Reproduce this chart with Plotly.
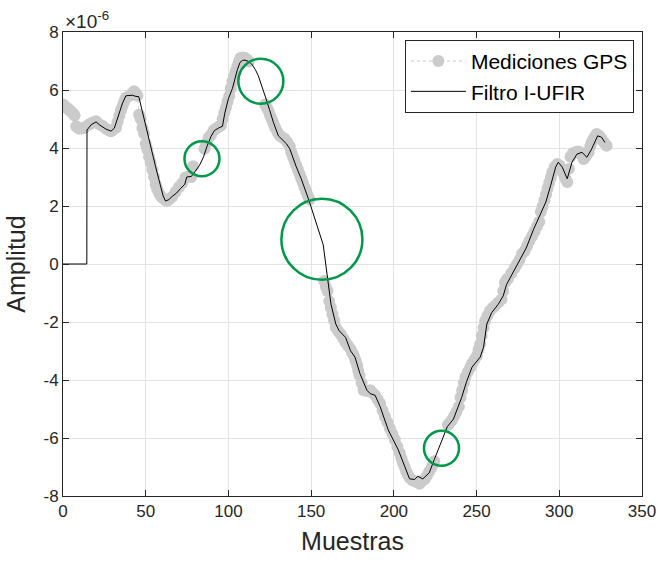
import plotly.graph_objects as go

# ---------------- data (amplitude in units of 1e-6) ----------------
gps_x = [0, 1, 2, 3, 4, 5, 6, 7, 8, 9, 10, 12, 13, 15, 16, 18, 20, 22, 24, 26, 28, 29, 30, 32, 33, 34, 35, 36,
         37, 38, 40, 42, 43, 44, 45, 46, 47, 48, 49, 50, 51, 52, 53, 54, 55, 56, 57, 58, 59, 60, 62, 63, 64, 66,
         68, 70, 72, 74, 76, 77.5, 78.6, None,
         85.5, 86.5, 88, 89.5, 91, 92.5, 94, 95.5, 96.5, 97.5, 98.5, 99.5, 100.5, 101.4, 102.4, 103.4, 104.4,
         105.4, 106.4, 107.3, 108.5, 110, 111.2, 112.3, None,
         122.2, 123.2, 124.2, 125.2, 126.2, 127.2, 128.2, 129.6, 131.1, 132.6, 134.1, 135.6, 137.1, 138, 139,
         140, 141, 142, 143, 144, 145, 146, 147, 148, 149, None,
         157.9, 158.9, 159.9, 160.9, 161.9, 162.9, 163.9, 164.9, 166.4, 167.9, 169.4, 170.8, 172.3, 173.8,
         174.8, 175.8, 176.8, 177.8, 178.5, 179.2, 180.5, 181.7, 183.7, 185.7, 187.2, 188.7, 190.2, 191.7,
         193.2, 194.6, 196.1, 197.6, 199.1, 200.6, 202.1, 203.6, 204.6, 205.5, 206.5, 207.5, 208.5, 209.5,
         211, 212.5, 214, 215.5, 217, 218.5, 220, 221.4, 222.9, 224.4, None,
         232.7, 233.5, 235, 236.3, 237.8, 239.3, 240.3, 241.3, 242.3, 243.3, 244.7, 246.2, 247.2, 248.7,
         250.2, 251.2, 252.2, 253.1, 254.2, 255.2, 256.6, 258.1, 259.6, 261.1, 263.1, 265.1, 266.1, 267.1,
         268.1, 269, 271, 273, 274.5, 276, 277.5, 279, 280.5, 282, 283.5, 285, 286.5, 287.9, 288.9, 289.9,
         291, 292, 292.9, 293.9, 294.9, 295.8, 297.3, 298.8, 300.1, 301.4, 302.6, 303.7, 304.8, 305.8,
         306.8, 308.2, 309.7, 311.2, 312.7, 313.7, 314.7, 316.2, 317.7, 318.7, 319.6, 320.6, 321.6, 322.6,
         324.1, 325.6, 327.1, 328.6]
gps_y = [5.50, 5.45, 5.40, 5.35, 5.30, 5.25, 5.20, 5.12, 4.75, 4.70, 4.66, 4.68, 4.70, 4.78, 4.82, 4.88,
         4.92, 4.82, 4.76, 4.66, 4.60, 4.58, 4.62, 4.70, 4.90, 5.10, 5.30, 5.45, 5.60, 5.73, 5.79, 5.90,
         5.96, 5.88, 5.80, 5.15, 5.00, 4.70, 4.50, 4.15, 3.95, 3.70, 3.50, 3.25, 3.00, 2.75, 2.58, 2.45,
         2.35, 2.28, 2.20, 2.18, 2.22, 2.32, 2.48, 2.65, 2.78, 2.98, 3.02, 3.00, 3.37, None,
         3.97, 4.15, 4.35, 4.45, 4.60, 4.67, 4.72, 4.78, 5.00, 5.22, 5.40, 5.60, 5.79, 6.05, 6.30, 6.47,
         6.65, 6.81, 6.98, 7.10, 7.12, 7.10, 7.05, 6.98, None,
         5.50, 5.40, 5.28, 5.12, 4.99, 4.85, 4.71, 4.55, 4.42, 4.36, 4.31, 4.20, 4.05, 3.85, 3.70, 3.55,
         3.40, 3.25, 3.10, 2.95, 2.80, 2.65, 2.50, 2.35, 2.22, None,
         -0.59, -0.78, -0.93, -1.28, -1.50, -1.73, -1.95, -2.19, -2.32, -2.42, -2.56, -2.70, -2.82, -2.93,
         -3.05, -3.16, -3.33, -3.50, -3.68, -3.84, -4.10, -4.35, -4.38, -4.35, -4.45, -4.53, -4.66, -4.81,
         -5.05, -5.26, -5.46, -5.66, -5.86, -6.06, -6.30, -6.52, -6.70, -6.86, -7.00, -7.15, -7.27, -7.37,
         -7.45, -7.49, -7.52, -7.58, -7.48, -7.43, -7.30, -7.15, -7.00, -6.80, None,
         -5.55, -5.50, -5.40, -5.26, -5.10, -4.92, -4.60, -4.35, -4.10, -3.90, -3.72, -3.56, -3.44, -3.30,
         -3.16, -2.95, -2.76, -2.47, -2.20, -1.96, -1.78, -1.62, -1.52, -1.45, -1.33, -1.22, -0.93, -0.65,
         -0.55, -0.50, -0.32, -0.14, 0.00, 0.15, 0.35, 0.45, 0.62, 0.80, 0.96, 1.12, 1.30, 1.46, 1.80, 1.98,
         2.20, 2.40, 2.60, 2.80, 2.98, 3.17, 3.35, 3.45, 3.40, 3.28, 3.10, 2.95, 2.83, 3.28,
         3.70, 3.82, 3.85, 3.88, 3.85, 3.75, 3.62, 3.72, 3.85, 4.05, 4.20, 4.31, 4.40, 4.48,
         4.42, 4.31, 4.18, 4.08]

filt_x = [0, 14.4, 14.5, 17, 20, 22, 26, 29, 31, 34, 36, 38, 40, 42, 44, 45.8, 47.8, 50, 52, 54, 56, 58.7,
          60.5, 62, 64, 66, 68.7, 71, 73.6, 74.8, 77.6, 80, 82.5, 85, 87, 89.5, 91.5, 94.4, 96.4, 97.8, 100,
          102.4, 104, 105.4, 107, 108.5, 110, 112.3, 114, 116.3, 118, 119.6, 122.2, 124.8, 127.2, 130.2, 133.1,
          135, 137.1, 139, 141, 144, 146.5, 149, 157.3, 160, 162, 164.9, 166.9, 170.8, 173.8, 176.5, 179.5,
          183.7, 185.7, 188.7, 191.7, 196.6, 202.6, 206.5, 209.5, 212.5, 214.5, 217.5, 221.4, 224.4, 228.4,
          232.3, 236, 238.5, 241, 244, 247.2, 252.2, 254.2, 256.2, 259.1, 263.1, 266.1, 268.1, 271, 276, 280,
          284.5, 287.9, 291.9, 294.8, 297.8, 299.4, 301.8, 304.8, 307.7, 310.7, 313.7, 316.7, 319.6, 323.2,
          325.6, 327.6]
filt_y = [0, 0, 4.62, 4.80, 4.90, 4.80, 4.65, 4.58, 4.68, 5.20, 5.55, 5.80, 5.80, 5.82, 5.78, 5.77, 5.30,
          4.75, 4.25, 3.80, 3.35, 2.75, 2.35, 2.17, 2.22, 2.33, 2.45, 2.60, 2.75, 3.00, 3.02, 3.20, 3.40, 3.70,
          4.05, 4.40, 4.60, 4.70, 4.75, 5.20, 5.70, 6.05, 6.45, 6.70, 6.95, 7.02, 7.03, 6.98, 6.90, 6.70, 6.50,
          6.25, 5.79, 5.33, 4.88, 4.42, 4.25, 4.15, 3.97, 3.65, 3.35, 2.94, 2.55, 2.14, 0.66, -0.48, -1.39,
          -2.07, -2.30, -2.53, -2.99, -3.21, -3.78, -4.35, -4.47, -4.53, -4.92, -5.72, -6.40, -6.97, -7.41,
          -7.43, -7.32, -7.41, -7.20, -6.75, -6.18, -5.61, -5.35, -5.00, -4.60, -4.05, -3.56, -3.21, -2.87,
          -2.07, -1.68, -1.39, -1.10, -0.71, -0.40, 0.09, 0.55, 1.20, 1.62, 2.14, 2.71, 3.34, 3.51, 3.34,
          2.94, 3.51, 3.79, 3.85, 3.68, 3.97, 4.42, 4.37, 4.19]

# outage markers (circles): centre and diameter in pixels
out_x = [84, 119.6, 156.5, 228.8]
out_y = [3.63, 6.30, 0.85, -6.35]
out_size = [35, 45, 81, 35]

x_ticks = [0, 50, 100, 150, 200, 250, 300, 350]
y_ticks = [-8, -6, -4, -2, 0, 2, 4, 6, 8]
y_ticktext = [str(v) for v in y_ticks]

FONT = "Liberation Sans, Arial, Helvetica, sans-serif"
AXC = "#262626"
GREEN = "#00994a"

fig = go.Figure()
fig.add_trace(go.Scatter(
    x=gps_x, y=gps_y, mode="lines+markers", name="Mediciones GPS",
    line=dict(color="#cbcbcb", width=1, dash="dot"),
    marker=dict(color="#cbcbcb", size=12, line=dict(width=0)),
    connectgaps=False,
))
fig.add_trace(go.Scatter(
    x=filt_x, y=filt_y, mode="lines", name="Filtro I-UFIR",
    line=dict(color="#000000", width=1),
))
fig.add_trace(go.Scatter(
    x=out_x, y=out_y, mode="markers", showlegend=False,
    marker=dict(symbol="circle-open", size=out_size, color=GREEN, opacity=1,
                line=dict(width=2.5, color=GREEN)),
))

axis_common = dict(
    showline=True, linecolor=AXC, linewidth=1, mirror="ticks",
    ticks="inside", ticklen=6, tickcolor=AXC,
    showgrid=True, gridcolor="#e3e3e3", gridwidth=1, zeroline=False,
    tickfont=dict(family=FONT, size=17, color=AXC),
)

fig.update_layout(
    width=668, height=563,
    margin=dict(l=63, r=17, t=32, b=63),
    paper_bgcolor="white", plot_bgcolor="white",
    font=dict(family=FONT, color=AXC),
    xaxis=dict(range=[0, 350], tickvals=x_ticks,
               title=dict(text="Muestras", font=dict(family=FONT, size=25, color=AXC), standoff=12),
               **axis_common),
    yaxis=dict(range=[-8, 8], tickvals=y_ticks, ticktext=y_ticktext,
               title=dict(text="Amplitud", font=dict(family=FONT, size=25, color=AXC), standoff=10),
               **axis_common),
    legend=dict(x=0.986, y=0.983, xanchor="right", yanchor="top",
                bgcolor="white", bordercolor=AXC, borderwidth=1,
                font=dict(family=FONT, size=21, color="#000000"),
                itemwidth=55, tracegroupgap=0),
    annotations=[dict(text="×10<sup>-6</sup>", xref="paper", yref="paper", x=0, y=1,
                      xanchor="left", yanchor="bottom", showarrow=False, yshift=-2,
                      font=dict(family=FONT, size=19, color=AXC))],
)

fig.write_html("out.html")
